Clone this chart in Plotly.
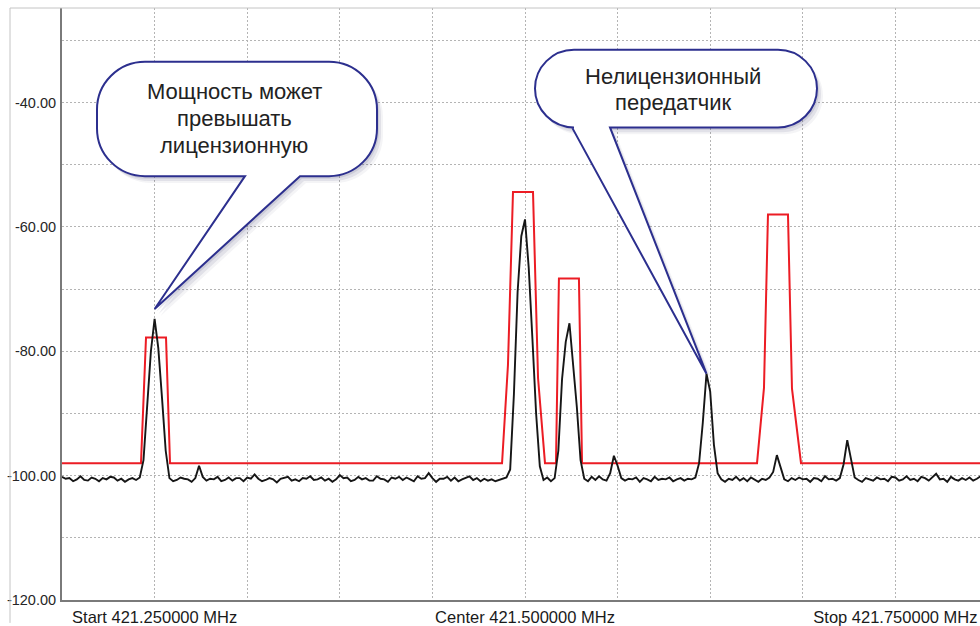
import numpy as np
import plotly.graph_objects as go

# ---------------- data ----------------
sweep_start_mhz = 421.1875
sweep_step_mhz = 0.0025

# measured trace level (dBm) at each sweep point
trace_level_dbm = [
    -100.2, -100.5, -100.4, -100.9, -100.6, -100.1, -100.7, -100.8, -100.3, -100.5,
    -100.9, -100.4, -100.6, -100.2, -100.3, -100.8, -100.5, -101.0, -100.6, -100.4,
    -100.7, -100.3, -97.5, -88.5, -80.0, -74.8, -79.5, -87.5, -96.0, -100.4,
    -100.9, -100.7, -100.3, -100.5, -100.6, -101.0, -100.4, -98.4, -100.2, -100.8,
    -100.5, -100.6, -100.2, -100.9, -100.7, -100.3, -100.8, -100.4, -100.4, -100.9,
    -100.3, -100.5, -99.8, -100.5, -100.9, -100.7, -100.4, -100.6, -101.1, -100.5,
    -100.3, -100.2, -100.8, -100.6, -100.9, -100.4, -100.5, -100.1, -100.7, -100.6,
    -100.3, -100.8, -100.5, -101.0, -100.6, -99.9, -100.4, -100.3, -100.9, -100.7,
    -100.2, -100.6, -100.4, -100.8, -100.8, -100.1, -100.5, -100.6, -101.0, -100.3,
    -100.5, -100.2, -100.7, -100.3, -100.6, -100.9, -100.1, -100.5, -100.4, -99.6,
    -100.4, -101.0, -100.5, -100.5, -100.2, -100.8, -100.3, -100.9, -100.6, -100.4,
    -100.1, -100.7, -100.4, -100.9, -100.5, -100.8, -100.6, -100.9, -100.7, -100.5,
    -100.3, -99.0, -87.0, -70.5, -61.5, -58.8, -66.5, -78.0, -90.0, -98.5,
    -100.7, -100.3, -100.9, -100.4, -96.0, -84.5, -78.5, -75.5, -82.0, -89.0,
    -97.5, -100.5, -100.9, -100.2, -100.7, -100.1, -100.6, -100.8, -99.6, -96.8,
    -98.4, -100.4, -100.8, -100.5, -100.6, -100.3, -101.0, -100.4, -100.6, -100.9,
    -100.2, -100.7, -100.5, -100.6, -100.3, -100.9, -100.6, -100.4, -100.8, -100.5,
    -100.6, -100.3, -98.0, -91.5, -83.6, -86.5, -95.0, -99.6, -100.6, -101.0,
    -100.5, -100.7, -100.2, -100.8, -100.4, -100.9, -100.3, -100.6, -101.0, -100.5,
    -100.7, -100.3, -99.4, -96.7, -98.8, -100.6, -100.9, -100.4, -100.7, -100.3,
    -100.6, -100.5, -101.0, -100.4, -100.5, -100.9, -100.1, -100.6, -100.5, -100.8,
    -100.4, -98.2, -94.3, -97.6, -100.3, -100.7, -101.0, -100.4, -100.6, -100.8,
    -100.3, -100.6, -100.5, -100.9, -100.2, -100.3, -100.8, -100.6, -100.1, -100.7,
    -100.5, -100.9, -100.2, -100.4, -100.8, -100.3, -99.7, -100.6, -100.5, -101.0,
    -100.2, -100.6, -100.8, -100.4, -100.7, -100.3, -100.8, -100.5, -100.1, -100.6,
    -100.4,
]

# licence mask (red line) vertices
mask_freq_mhz = [
    421.1875, 421.2408, 421.2442, 421.2577, 421.2604,
    421.4845, 421.4885, 421.4919, 421.5054, 421.5088, 421.5135,
    421.5209, 421.5229, 421.5364, 421.5385,
    421.6566, 421.6613, 421.6640, 421.6775, 421.6802, 421.6863,
    421.8200,
]
mask_level_dbm = [
    -98.0, -98.0, -77.8, -77.8, -98.0,
    -98.0, -82.2, -54.4, -54.4, -84.3, -98.0,
    -98.0, -68.3, -68.3, -98.0,
    -98.0, -85.9, -58.0, -58.0, -86.0, -98.0,
    -98.0,
]

x_tick_vals = [421.25, 421.50, 421.75]
x_tick_text = ["Start 421.250000 MHz", "Center 421.500000 MHz", "Stop 421.750000 MHz"]
y_tick_vals = [-120, -100, -80, -60, -40]
y_tick_text = ["-120.00", "-100.00", "-80.00", "-60.00", "-40.00"]

callout_lines = [["Мощность может", "превышать", "лицензионную"],
                 ["Нелицензионный", "передатчик"]]
callout_peak_index = [25, 174]

# ---------------- geometry ----------------
W, H = 980, 626
ML, MT, MB, MR = 62, 8, 23, 0
PW, PH = W - ML - MR, H - MT - MB
PX_PER_MHZ = 1481.6
X_RANGE = [421.1875, 421.1875 + PW / PX_PER_MHZ]
Y_RANGE = [-120.0, -120.0 + PH / 6.25]

freqs = sweep_start_mhz + sweep_step_mhz * np.arange(len(trace_level_dbm))


def to_paper(px, py):
    return (px - ML) / PW, (H - MB - py) / PH


def data_to_px(f, v):
    return (ML + (f - X_RANGE[0]) / (X_RANGE[1] - X_RANGE[0]) * PW,
            MT + (Y_RANGE[1] - v) / (Y_RANGE[1] - Y_RANGE[0]) * PH)


def bubble_path(x0, y0, x1, y1, r, tl, tr, tip, dx=0.0, dy=0.0):
    r = min(r, (y1 - y0) / 2.0)
    k = 0.5523 * r

    def P(x, y):
        a, b = to_paper(x + dx, y + dy)
        return f"{a:.5f},{b:.5f}"

    s = "M" + P(tl, y1)
    s += " L" + P(tip[0], tip[1])
    s += " L" + P(tr, y1)
    s += " L" + P(x1 - r, y1)
    s += " C" + P(x1 - r + k, y1) + " " + P(x1, y1 - r + k) + " " + P(x1, y1 - r)
    s += " L" + P(x1, y0 + r)
    s += " C" + P(x1, y0 + r - k) + " " + P(x1 - r + k, y0) + " " + P(x1 - r, y0)
    s += " L" + P(x0 + r, y0)
    s += " C" + P(x0 + r - k, y0) + " " + P(x0, y0 + r - k) + " " + P(x0, y0 + r)
    s += " L" + P(x0, y1 - r)
    s += " C" + P(x0, y1 - r + k) + " " + P(x0 + r - k, y1) + " " + P(x0 + r, y1)
    s += " Z"
    return s


fig = go.Figure()
fig.add_trace(go.Scatter(x=mask_freq_mhz, y=mask_level_dbm, mode="lines",
                         line=dict(color="#ec1c24", width=2), hoverinfo="skip"))
fig.add_trace(go.Scatter(x=freqs, y=trace_level_dbm, mode="lines",
                         line=dict(color="#161616", width=1.9), hoverinfo="skip"))

grid_style = dict(gridcolor="#b4b4b4", gridwidth=1, griddash="2px,2px")

fig.update_xaxes(range=X_RANGE, tickvals=x_tick_vals, ticktext=x_tick_text,
                 showgrid=True, **grid_style,
                 minor=dict(tick0=421.1875, dtick=0.0625, showgrid=True, **grid_style),
                 showline=True, linecolor="#7a7a7a", linewidth=2,
                 ticks="", zeroline=False, ticklabelstandoff=1,
                 tickfont=dict(family="Liberation Sans, Arial", size=16.5, color="#1a1a1a"))
fig.update_yaxes(range=Y_RANGE, tickvals=y_tick_vals, ticktext=y_tick_text,
                 showgrid=True, **grid_style,
                 minor=dict(dtick=10, tick0=-120, showgrid=True, **grid_style),
                 showline=True, linecolor="#7a7a7a", linewidth=2,
                 ticks="", zeroline=False, ticklabelstandoff=1,
                 tickfont=dict(family="Liberation Sans, Arial", size=14.5, color="#262626"))

shapes = []
# outer frame
fx0, fy0 = to_paper(10, 8)
fx1, fy1 = to_paper(W, H)
shapes.append(dict(type="line", xref="paper", yref="paper", x0=fx0, y0=fy0, x1=fx1, y1=fy0,
                   line=dict(color="#c4c4c4", width=1), layer="above"))
shapes.append(dict(type="line", xref="paper", yref="paper", x0=fx0, y0=fy0, x1=fx0, y1=fy1,
                   line=dict(color="#c4c4c4", width=1), layer="above"))

bubbles = [
    dict(box=(97, 62, 377, 177), r=48, tail=(245, 300), tip_dy=-10, line_y=[92, 119, 146], cx=234),
    dict(box=(535, 50, 817, 128), r=39, tail=(572, 610), tip_dy=0, line_y=[77, 103], cx=673),
]
annotations = []
for b, lines, pi in zip(bubbles, callout_lines, callout_peak_index):
    tx, ty = data_to_px(freqs[pi], trace_level_dbm[pi])
    tip = (tx, ty + b["tip_dy"])
    x0, y0, x1, y1 = b["box"]
    for (dx, dy, a) in [(6, 7, 0.06), (4, 5, 0.10), (2, 2.5, 0.12)]:
        shapes.append(dict(type="path", xref="paper", yref="paper",
                           path=bubble_path(x0, y0, x1, y1, b["r"], b["tail"][0], b["tail"][1],
                                            tip, dx, dy),
                           fillcolor=f"rgba(60,60,110,{a})", line=dict(width=0), layer="above"))
    shapes.append(dict(type="path", xref="paper", yref="paper",
                       path=bubble_path(x0, y0, x1, y1, b["r"], b["tail"][0], b["tail"][1], tip),
                       fillcolor="white", line=dict(color="#2c2f8e", width=2), layer="above"))
    for txt, ly in zip(lines, b["line_y"]):
        cx, cy = to_paper(b["cx"], ly)
        annotations.append(dict(x=cx, y=cy, xref="paper", yref="paper", text=txt,
                                showarrow=False, xanchor="center", yanchor="middle",
                                font=dict(family="Liberation Sans, Arial", size=22,
                                          color="#222222")))

fig.update_layout(width=W, height=H, margin=dict(l=ML, r=MR, t=MT, b=MB),
                  paper_bgcolor="white", plot_bgcolor="white", showlegend=False,
                  shapes=shapes, annotations=annotations, hovermode=False)

fig.write_html("out.html", config={"displayModeBar": False})
